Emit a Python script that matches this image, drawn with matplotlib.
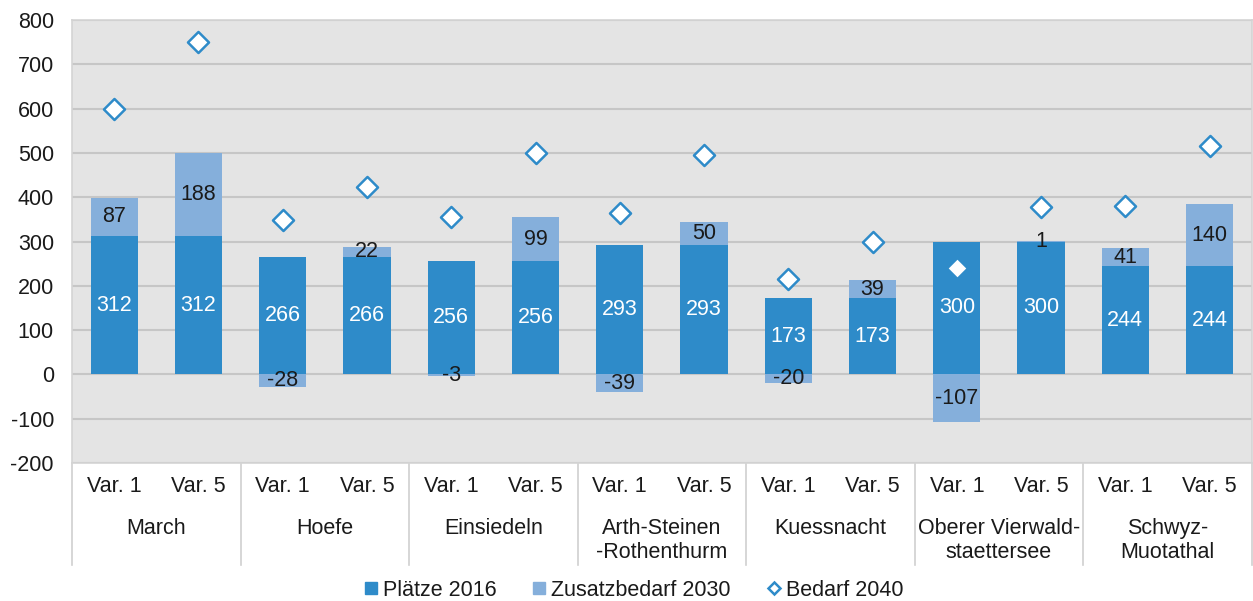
import numpy as np
import matplotlib.pyplot as plt
from matplotlib.lines import Line2D
import matplotlib.transforms as mtransforms

plt.rcParams['font.family'] = ['Liberation Sans', 'DejaVu Sans']

groups = ['March', 'Hoefe', 'Einsiedeln', 'Arth-Steinen\n-Rothenthurm', 'Kuessnacht',
          'Oberer Vierwald-\nstaettersee', 'Schwyz-\nMuotathal']
variants = ['Var. 1', 'Var. 5']
plaetze_2016 = [312, 312, 266, 266, 256, 256, 293, 293, 173, 173, 300, 300, 244, 244]
zusatz_2030 = [87, 188, -28, 22, -3, 99, -39, 50, -20, 39, -107, 1, 41, 140]
bedarf_2040 = [600, 750, 348, 422, 355, 500, 365, 495, 215, 298, 240, 378, 380, 515]
y_ticks = [-200, -100, 0, 100, 200, 300, 400, 500, 600, 700, 800]

dark = '#2e8bc9'
light = '#85afdb'
grid_c = '#c6c6c6'
txt = '#1a1a1a'
fs = 15.5

fig = plt.figure(figsize=(12.53, 6.01), dpi=100)
ax = fig.add_axes([0.0575, 0.2296, 0.9415, 0.7371])
ax.set_facecolor('#e4e4e4')

x = np.arange(len(plaetze_2016))
p = np.array(plaetze_2016)
z = np.array(zusatz_2030)
# negative additions hang below zero, positive ones sit on top of the 2016 bar
bottom_z = np.where(z >= 0, p, 0)
w = 0.56

ax.bar(x, p, width=w, color=dark, zorder=2)
ax.bar(x, z, bottom=bottom_z, width=w, color=light, zorder=2)
ax.scatter(x, bedarf_2040, marker='D', s=115, facecolor='white', edgecolor=dark,
           linewidth=1.8, zorder=4)

for xi, pi, zi, bz in zip(x, p, z, bottom_z):
    ax.text(xi, pi / 2, str(pi), ha='center', va='center', color='white', fontsize=fs, zorder=3)
    ax.text(xi, bz + zi / 2, str(zi), ha='center', va='center', color=txt, fontsize=fs, zorder=3)

ax.set_ylim(-200, 800)
ax.set_xlim(-0.5, len(x) - 0.5)
ax.set_yticks(y_ticks)
ax.set_yticklabels([str(t) for t in y_ticks], fontsize=fs, color=txt)
ax.tick_params(axis='y', length=0, pad=13)
ax.yaxis.grid(True, color=grid_c, linewidth=1.5, zorder=0)
ax.set_axisbelow(True)
for s in ax.spines.values():
    s.set_color('#d4d4d4')
    s.set_linewidth(1.2)

ax.set_xticks(x)
ax.set_xticklabels(variants * len(groups), fontsize=fs, color=txt)
ax.tick_params(axis='x', length=0, pad=9)

trans = mtransforms.blended_transform_factory(ax.transData, ax.transAxes)
for gi, g in enumerate(groups):
    ax.text(2 * gi + 0.5, -0.125, g, transform=trans, ha='center', va='top',
            fontsize=fs, color=txt, linespacing=1.15)
for b in np.arange(-0.5, len(x), 2):
    ax.plot([b, b], [0, -0.23], transform=trans, color='#d0d0d0', linewidth=1.2,
            clip_on=False, zorder=1)

handles = [
    Line2D([], [], marker='s', linestyle='none', color=dark, markersize=8),
    Line2D([], [], marker='s', linestyle='none', color=light, markersize=8),
    Line2D([], [], marker='D', linestyle='none', markerfacecolor='white',
           markeredgecolor=dark, markeredgewidth=1.8, markersize=6),
]
fig.legend(handles, ['Plätze 2016', 'Zusatzbedarf 2030', 'Bedarf 2040'],
           loc='lower center', bbox_to_anchor=(0.505, -0.032), ncol=3, frameon=False,
           fontsize=fs, handletextpad=0.15, columnspacing=1.6, handlelength=0.8,
           labelcolor=txt)

fig.savefig('out.png', dpi=100)
